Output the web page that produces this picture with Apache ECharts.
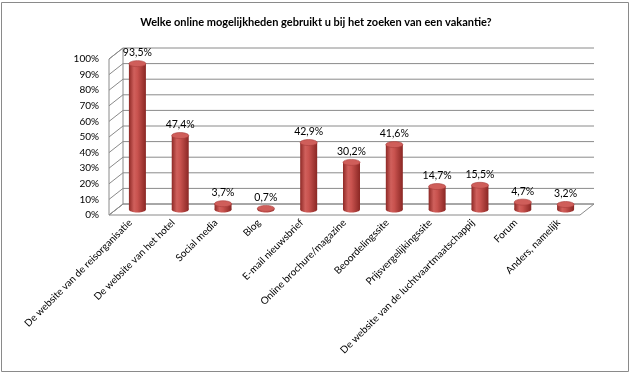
<!DOCTYPE html>
<html><head><meta charset="utf-8">
<script src="https://cdn.jsdelivr.net/npm/echarts@6/dist/echarts.min.js"></script>
<style>html,body{margin:0;padding:0;background:#fff}#c{width:632px;height:374px}</style>
</head><body><div id="c"></div>
<script>
const chartTitle = 'Welke online mogelijkheden gebruikt u bij het zoeken van een vakantie?';
const categories = ['De website van de reisorganisatie','De website van het hotel','Social media','Blog','E-mail nieuwsbrief','Online brochure/magazine','Beoordelingssite','Prijsvergelijkingssite','De website van de luchtvaartmaatschappij','Forum','Anders, namelijk'];
const values = [93.5, 47.4, 3.7, 0.7, 42.9, 30.2, 41.6, 14.7, 15.5, 4.7, 3.2];
const yTicks = [0, 10, 20, 30, 40, 50, 60, 70, 80, 90, 100];

const FONT = 'Lato';
const DX = 14, DY = -11;
const fmt = v => String(v).replace('.', ',') + '%';

const chart = echarts.init(document.getElementById('c'), null, {renderer: 'canvas'});

function frameRender(params, api) {
  const bw = api.size([1, 0])[0];
  const L = api.coord([0, 0])[0] - bw / 2;
  const R = api.coord([categories.length - 1, 0])[0] + bw / 2;
  const y0 = api.coord([0, yTicks[0]])[1];
  const yTop = api.coord([0, yTicks[yTicks.length - 1]])[1];
  const ls = {stroke: '#8a8a8a', lineWidth: 1};
  const children = [];
  children.push({type: 'polygon', shape: {points: [[L, y0], [R, y0], [R + DX, y0 + DY], [L + DX, y0 + DY]]},
    style: {fill: '#ffffff', stroke: '#8a8a8a', lineWidth: 1}});
  children.push({type: 'polygon', shape: {points: [[L, y0], [L, yTop], [L + DX, yTop + DY], [L + DX, y0 + DY]]},
    style: {fill: '#ffffff', stroke: '#8a8a8a', lineWidth: 1}});
  yTicks.forEach(t => {
    const y = api.coord([0, t])[1];
    children.push({type: 'line', shape: {x1: L + DX, y1: y + DY, x2: R + DX, y2: y + DY}, style: ls});
    children.push({type: 'line', shape: {x1: L, y1: y, x2: L + DX, y2: y + DY}, style: ls});
  });
  return {type: 'group', children: children};
}

function barRender(params, api) {
  const idx = api.value(0);
  const val = api.value(1);
  const top = api.coord([idx, val]);
  const base = api.coord([idx, 0]);
  const cx = top[0] + DX / 2;
  const ty = top[1] + DY / 2;
  const by = base[1] + DY / 2;
  const w = 17, rx = w / 2, ry = 3;
  const grad = new echarts.graphic.LinearGradient(0, 0, 1, 0, [
    {offset: 0, color: '#8e2926'},
    {offset: 0.3, color: '#d0605c'},
    {offset: 0.5, color: '#c9534f'},
    {offset: 1, color: '#8a2724'}
  ]);
  return {type: 'group', children: [
    {type: 'ellipse', shape: {cx: cx, cy: by, rx: rx, ry: ry}, style: {fill: grad}},
    {type: 'rect', shape: {x: cx - rx, y: ty, width: w, height: Math.max(by - ty, 0)}, style: {fill: grad}},
    {type: 'ellipse', shape: {cx: cx, cy: ty, rx: rx, ry: ry}, style: {fill: '#cf5e5a', stroke: '#a83d3a', lineWidth: 0.6}},
    {type: 'text', style: {text: fmt(val), x: cx, y: ty - 11, textAlign: 'center', textVerticalAlign: 'middle',
      font: '10.5px ' + FONT, fill: '#000'}}
  ]};
}

chart.setOption({
  animation: false,
  title: {text: chartTitle, left: 'center', top: 12,
    textStyle: {fontFamily: FONT, fontSize: 11, fontWeight: 'bold', color: '#000'}},
  graphic: [{type: 'rect', shape: {x: 1.5, y: 2.5, width: 627, height: 369},
    style: {fill: 'none', stroke: '#8a8a8a', lineWidth: 1}, z: 0}],
  grid: {left: 109, right: 52, top: 59, bottom: 159},
  xAxis: {type: 'category', data: categories,
    axisLine: {show: false}, axisTick: {show: false},
    axisLabel: {rotate: 45, margin: 6, interval: 0, fontFamily: FONT, fontSize: 10, color: '#000'}},
  yAxis: {type: 'value', min: 0, max: 100, interval: 10,
    axisLine: {show: false}, axisTick: {show: false}, splitLine: {show: false},
    axisLabel: {formatter: '{value}%', margin: 10, fontFamily: FONT, fontSize: 10, color: '#000'}},
  series: [
    {type: 'custom', renderItem: frameRender, data: [[0, 0]], encode: {x: 0, y: 1}, z: 1, silent: true},
    {type: 'custom', renderItem: barRender, data: values.map((v, i) => [i, v]), encode: {x: 0, y: 1}, z: 5}
  ]
});
</script></body></html>
